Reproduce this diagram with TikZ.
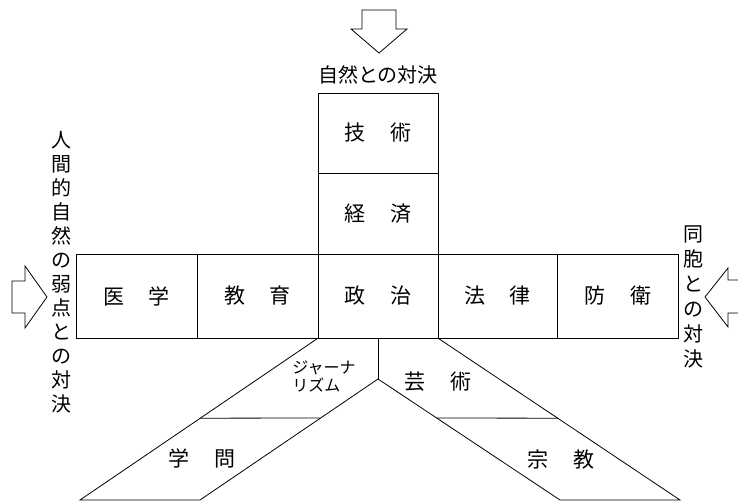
\documentclass[tikz,border=0pt]{standalone}
\usepackage{fontspec}
\usetikzlibrary{calc}
\newfontfamily\jp{Noto Sans CJK JP}
\newcommand\gp{\hspace{25pt}}
\begin{document}
\begin{tikzpicture}[x=1pt,y=-1pt,line width=0.8pt,
  cell/.style={draw, inner sep=0pt, minimum width=121pt, font=\jp\fontsize{21}{21}\selectfont},
  lbl/.style={inner sep=0pt, font=\jp\fontsize{21}{21}\selectfont},
  vlbl/.style={inner sep=0pt, align=center},
  small/.style={inner sep=0pt, align=left, font=\jp\fontsize{16}{18}\selectfont},
  blockarrow/.style={draw, line width=0.8pt, line join=miter}]
\useasboundingbox (0,0) rectangle (738,502);

% column
\node[cell, minimum width=120pt, minimum height=80pt] (gijutsu) at (378,133) {技\gp 術};
\node[cell, minimum width=120pt, minimum height=81pt] (keizai) at (378,213.5) {経\gp 済};
% row
\node[cell, minimum height=84pt] (igaku) at (136.5,296) {医\gp 学};
\node[cell, minimum height=84pt] (kyoiku) at (257.5,296) {教\gp 育};
\node[cell, minimum width=120pt, minimum height=84pt] (seiji) at (378,296) {政\gp 治};
\node[cell, minimum width=119pt, minimum height=84pt] (horitsu) at (497.5,296) {法\gp 律};
\node[cell, minimum height=84pt] (boei) at (617.5,296) {防\gp 衛};

% lower fan
\coordinate (Lt) at (seiji.south west);
\coordinate (Rt) at (seiji.south east);
\coordinate (Mt) at (seiji.south);
\coordinate (A) at (378,379);
\coordinate (Lb) at (80,500);
\coordinate (Mlb) at (200,500);
\coordinate (Mrb) at (560,500);
\coordinate (Rb) at (680,500);
\draw (Mt) -- (A);
\draw (Lt) -- (Lb) -- (Mlb) -- (A) -- (Mrb) -- (Rb) -- (Rt);
\coordinate (L1) at ($(Lt)!0.4938!(Lb)$);
\coordinate (L2) at ($(A)!0.3223!(Mlb)$);
\coordinate (R1) at ($(A)!0.3223!(Mrb)$);
\coordinate (R2) at ($(Rt)!0.4938!(Rb)$);
\draw (L1) -- (L2);
\draw (R1) -- (R2);

\node[small, anchor=west] (journalism) at (292,377) {ジャーナ\\リズム};
\node[lbl] (geijutsu) at (438,382) {芸\gp 術};
\node[lbl] (gakumon) at (202,458) {学\gp 問};
\node[lbl] (shukyo) at (561,460) {宗\gp 教};

% top arrow and label
\draw[blockarrow] (362,10) -- (396,10) -- (396,29) -- (407,29) -- (379,53) -- (351,29) -- (362,29) -- cycle;
\node[lbl, font=\jp\fontsize{20}{20}\selectfont] (shizen) at (378,75) {自然との対決};

% left arrow and label
\draw[blockarrow] (12,281) -- (25,281) -- (25,266) -- (47,297) -- (25,328) -- (25,313) -- (12,313) -- cycle;
\node[vlbl, font=\jp\fontsize{20}{24}\selectfont] (ningen) at (61,272) {人\\間\\的\\自\\然\\の\\弱\\点\\と\\の\\対\\決};

% right arrow and label
\draw[blockarrow] (738,280) -- (728,280) -- (728,268) -- (705,297) -- (728,327) -- (728,313) -- (738,313);
\node[vlbl, font=\jp\fontsize{20}{25}\selectfont] (doho) at (693,296.5) {同\\胞\\と\\の\\対\\決};
\end{tikzpicture}
\end{document}
